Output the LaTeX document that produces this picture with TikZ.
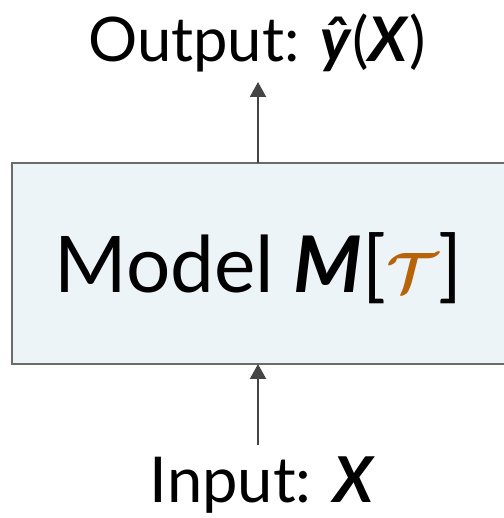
\documentclass[tikz,border=0pt]{standalone}
\usepackage{fontspec}
\usepackage{bm}
\setmainfont{Lato}
\usetikzlibrary{arrows.meta,positioning}
\definecolor{boxfill}{HTML}{EDF4F8}
\definecolor{boxline}{HTML}{6B6B6B}
\definecolor{arrowgray}{HTML}{444444}
\definecolor{torange}{HTML}{B8620A}
\tikzset{
  modelbox/.style={draw=boxline, line width=1.2pt, fill=boxfill},
  flow/.style={-{Triangle[length=8.5pt,width=9pt]}, color=arrowgray, line width=1.4pt},
  label/.style={inner sep=0pt, anchor=base}
}

\begin{document}
\begin{tikzpicture}
		\useasboundingbox (0, 0) rectangle (10.08, 10.36);
		
		% model box
		\draw[modelbox] (0.24, 3.08) rectangle (10.1, 7.10);
		\node[label, font=\fontsize{44.5}{50}\selectfont] (model) at (5.17, 4.5)
			{Model \textbf{\textit{M}}[{\color{torange}\scalebox{1.3}{$\bm{\mathcal{T}}$}}]};
		
		\coordinate (boxtop) at (5.16, 7.10);
		\coordinate (boxbot) at (5.16, 3.08);
		
		% in and out
		\node[label, font=\fontsize{35}{40}\selectfont] (output) at (5.14, 9.12)
			{Output: \textbf{\textit{ŷ}}(\textbf{\textit{X}})};
		\node[label, font=\fontsize{36}{40}\selectfont] (input) at (5.25, 0.3)
			{Input: \textbf{\textit{X}}};
		
		\coordinate (instart) at (5.16, 1.46);
		\draw[flow] (instart) -- (boxbot);
		\draw[flow] (boxtop) -- ++(0, 1.62) coordinate (outend);
\end{tikzpicture}
\end{document}
